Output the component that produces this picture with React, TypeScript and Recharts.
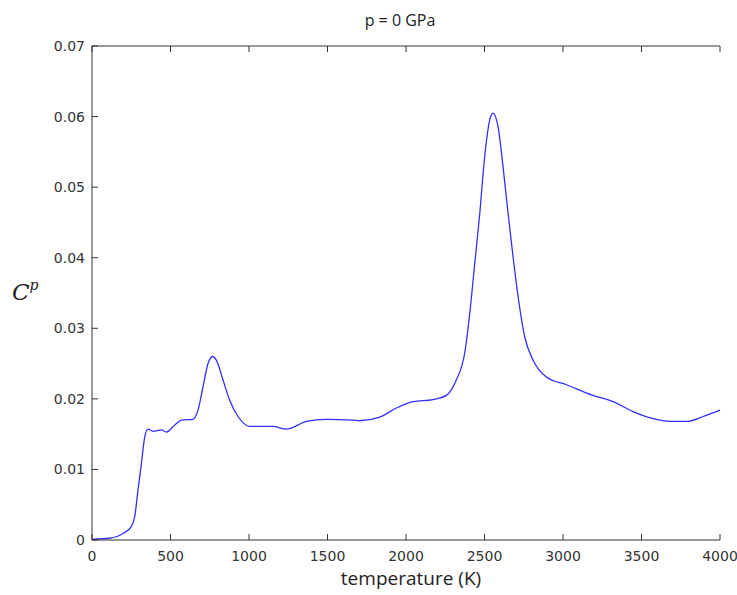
import React from "react";
import { LineChart, Line, XAxis, YAxis } from "recharts";

const temperature = [
  0, 110, 200, 250, 272, 293, 315, 336, 357, 389, 442, 474, 527, 570, 643, 675,
  707, 739, 767, 792, 834, 877, 930, 1005, 1153, 1238, 1366, 1493, 1663, 1705,
  1833, 1939, 2045, 2172, 2257, 2321, 2374, 2406, 2438, 2470, 2501, 2533, 2554,
  2586, 2618, 2650, 2682, 2714, 2756, 2809, 2894, 3022, 3191, 3319, 3446, 3574,
  3680, 3786, 3892, 4000,
];
const heatCapacity = [
  0.0001, 0.00025, 0.00095, 0.0019, 0.0033, 0.0071, 0.0109, 0.0146, 0.0157,
  0.0154, 0.0156, 0.0153, 0.0163, 0.017, 0.0171, 0.0184, 0.0217, 0.025, 0.026,
  0.0255, 0.0227, 0.0198, 0.0175, 0.0161, 0.0161, 0.0157, 0.0168, 0.0171,
  0.017, 0.0169, 0.0174, 0.0187, 0.0196, 0.0199, 0.0205, 0.0227, 0.0265,
  0.0321, 0.0392, 0.0463, 0.0543, 0.0595, 0.0605, 0.0586, 0.0529, 0.0463,
  0.0401, 0.0345, 0.0288, 0.0255, 0.0231, 0.022, 0.0205, 0.0196, 0.0182,
  0.0172, 0.0168, 0.0168, 0.0175, 0.0184,
];
const xTicks = [0, 500, 1000, 1500, 2000, 2500, 3000, 3500, 4000];
const yTicks = [0, 0.01, 0.02, 0.03, 0.04, 0.05, 0.06, 0.07];

const data = temperature.map((t, i) => ({ t, cp: heatCapacity[i] }));

const axisColor = "#333";
const tickStyle = { fontSize: 14, fill: "#333", fontFamily: "DejaVu Sans" };
const yFmt = (v: number) => (v === 0 ? "0" : v.toFixed(2));
const noLabel = () => <g />;

export default function App() {
  return (
    <div style={{ position: "absolute", left: 0, top: 0, width: 737, height: 595, background: "#fff" }}>
      <LineChart width={737} height={595} data={data} margin={{ top: 0, right: 17, bottom: 0, left: 30 }}>
        <XAxis
          dataKey="t"
          type="number"
          domain={[0, 4000]}
          ticks={xTicks}
          height={55}
          tickSize={-6}
          tickMargin={17}
          stroke={axisColor}
          tick={tickStyle}
          interval={0}
        />
        <XAxis
          xAxisId="top"
          orientation="top"
          dataKey="t"
          type="number"
          domain={[0, 4000]}
          ticks={xTicks}
          height={46}
          tickSize={-6}
          stroke={axisColor}
          tick={noLabel}
        />
        <YAxis
          type="number"
          domain={[0, 0.07]}
          ticks={yTicks}
          width={62}
          tickSize={-6}
          tickMargin={13}
          stroke={axisColor}
          tick={tickStyle}
          tickFormatter={yFmt}
          interval={0}
        />
        <YAxis
          yAxisId="right"
          orientation="right"
          type="number"
          domain={[0, 0.07]}
          ticks={yTicks}
          width={0}
          tickSize={-6}
          stroke={axisColor}
          tick={noLabel}
        />
        <Line
          type="monotone"
          dataKey="cp"
          stroke="#3030ff"
          strokeWidth={1.3}
          dot={false}
          isAnimationActive={false}
        />
        <text x={400} y={26} textAnchor="middle" fontSize={16} fontFamily="Open Sans" fill="#222">
          p = 0 GPa
        </text>
        <text x={411} y={585} textAnchor="middle" fontSize={19} fontFamily="Open Sans" fill="#222">
          temperature (K)
        </text>
        <text x={12} y={300} fontSize={23} fontStyle="italic" fontFamily="DejaVu Serif" fill="#222">
          C
          <tspan fontSize={14} dy={-10}>p</tspan>
        </text>
      </LineChart>
    </div>
  );
}
